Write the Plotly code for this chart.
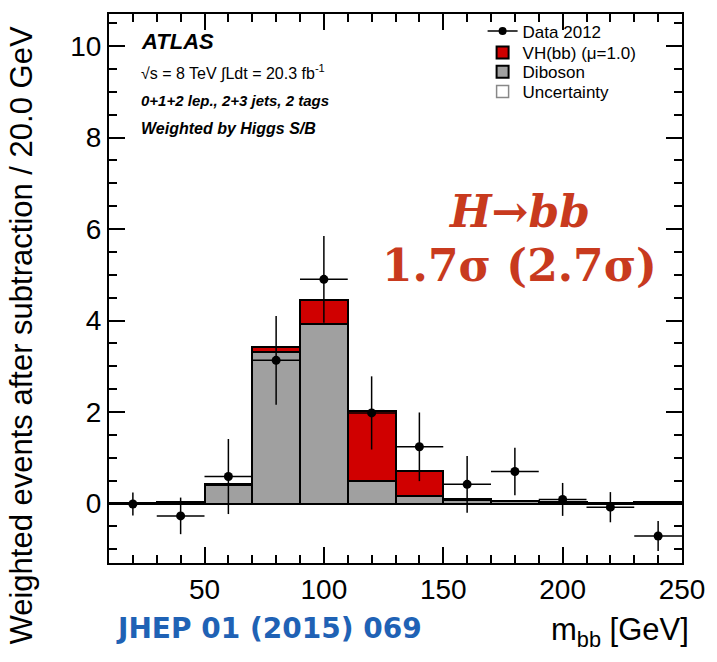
import plotly.graph_objects as go

# ---- data ----
bin_centers = [20, 40, 60, 80, 100, 120, 140, 160, 180, 200, 220, 240]
bin_width = 20
diboson = [0.02, 0.03, 0.40, 3.31, 3.93, 0.49, 0.16, 0.08, 0.05, 0.04, 0.02, 0.03]
vh_signal = [0.0, 0.0, 0.02, 0.11, 0.51, 1.54, 0.55, 0.01, 0.0, 0.0, 0.0, 0.0]
data_y = [-0.01, -0.27, 0.59, 3.13, 4.90, 1.98, 1.24, 0.42, 0.70, 0.09, -0.08, -0.71]
data_err = [0.25, 0.40, 0.82, 0.97, 0.95, 0.80, 0.75, 0.62, 0.52, 0.36, 0.33, 0.33]
x_err = [10] * len(bin_centers)

FONT = "Liberation Sans, Arial, Helvetica, sans-serif"

fig = go.Figure()

fig.add_trace(go.Bar(
    x=bin_centers, y=diboson, width=bin_width, name="Diboson",
    marker=dict(color="#a0a0a0", line=dict(color="black", width=2)),
    legend="legend3",
))
fig.add_trace(go.Bar(
    x=bin_centers, y=vh_signal, width=bin_width, name="VH(bb) (\u03bc=1.0)",
    marker=dict(color="#d00000", line=dict(color="black", width=2)),
    legend="legend2",
))
fig.add_trace(go.Bar(
    x=[None], y=[None], name="Uncertainty",
    marker=dict(color="white", line=dict(color="#888888", width=1.5)),
    legend="legend4",
))
fig.add_trace(go.Scatter(
    x=bin_centers, y=data_y, mode="markers", showlegend=False,
    marker=dict(color="black", size=9),
    error_y=dict(type="data", array=data_err, color="black", thickness=1.5, width=0),
    error_x=dict(type="data", array=x_err, color="black", thickness=1.5, width=0),
))
# legend entry for data (line + dot)
fig.add_trace(go.Scatter(
    x=[None], y=[None], mode="lines+markers", name="Data 2012",
    line=dict(color="black", width=1.5), marker=dict(color="black", size=8),
    legend="legend",
))

def leg(y):
    return dict(x=0.652, y=y, xanchor="left", yanchor="middle",
                font=dict(size=17, family=FONT, color="black"),
                bgcolor="rgba(0,0,0,0)", tracegroupgap=0)

fig.update_layout(
    width=717, height=662,
    margin=dict(l=109, r=27, t=13, b=99),
    paper_bgcolor="white", plot_bgcolor="white",
    barmode="stack", bargap=0,
    font=dict(family=FONT, color="black"),
    legend=leg(0.968), legend2=leg(0.929), legend3=leg(0.894), legend4=leg(0.858),
)

fig.update_xaxes(
    range=[10, 250], showline=True, linecolor="black", linewidth=2, mirror="allticks",
    ticks="inside", ticklen=16, tickwidth=1.5, tickcolor="black",
    tick0=0, dtick=50, tickfont=dict(size=28, color="black", family=FONT),
    minor=dict(ticks="inside", ticklen=8, tickwidth=1.5, tickcolor="black", dtick=10),
    showgrid=False, zeroline=False,
)
fig.update_yaxes(
    range=[-1.3, 10.7], showline=True, linecolor="black", linewidth=2, mirror="allticks",
    ticks="inside", ticklen=16, tickwidth=1.5, tickcolor="black",
    tick0=0, dtick=2, tickfont=dict(size=28, color="black", family=FONT),
    minor=dict(ticks="inside", ticklen=8, tickwidth=1.5, tickcolor="black", dtick=0.5),
    showgrid=False, zeroline=True, zerolinecolor="black", zerolinewidth=2,
)

ann = [
    dict(text="<b><i>ATLAS</i></b>", x=0.053, y=0.950, size=22),
    dict(text="\u221As = 8 TeV \u222bLdt = 20.3 fb<sup>-1</sup>", x=0.053, y=0.893, size=16),
    dict(text="<b><i>0+1+2 lep., 2+3 jets, 2 tags</i></b>", x=0.053, y=0.843, size=15),
    dict(text="<b><i>Weighted by Higgs S/B</i></b>", x=0.053, y=0.792, size=16),
]
for a in ann:
    fig.add_annotation(text=a["text"], x=a["x"], y=a["y"], xref="paper", yref="paper",
                       xanchor="left", yanchor="middle", showarrow=False,
                       font=dict(size=a["size"], color="black", family=FONT))

RED = "#c83a1e"
SERIF = "DejaVu Serif, serif"
fig.add_annotation(text="<b><i>H\u2192bb</i></b>", x=0.716, y=0.641, xref="paper", yref="paper",
                   xanchor="center", yanchor="middle", showarrow=False,
                   font=dict(size=44, color=RED, family=SERIF))
fig.add_annotation(text="<b>1.7\u03c3 (2.7\u03c3)</b>", x=0.716, y=0.541, xref="paper", yref="paper",
                   xanchor="center", yanchor="middle", showarrow=False,
                   font=dict(size=44, color=RED, family=SERIF))

fig.add_annotation(text="<b>JHEP 01 (2015) 069</b>", x=0.008, y=-0.119, xref="paper", yref="paper",
                   xanchor="left", yanchor="middle", showarrow=False,
                   font=dict(size=28, color="#1f62b5", family="DejaVu Sans, Verdana, sans-serif"))
fig.add_annotation(text="m<sub>bb</sub> [GeV]", x=1.016, y=-0.126, xref="paper", yref="paper",
                   xanchor="right", yanchor="middle", showarrow=False,
                   font=dict(size=31, color="black", family=FONT))
fig.add_annotation(text="Weighted events after subtraction / 20.0 GeV", x=-0.153, y=0.415,
                   xref="paper", yref="paper", xanchor="center", yanchor="middle",
                   textangle=-90, showarrow=False,
                   font=dict(size=31, color="black", family=FONT))

fig.write_html("out.html")
